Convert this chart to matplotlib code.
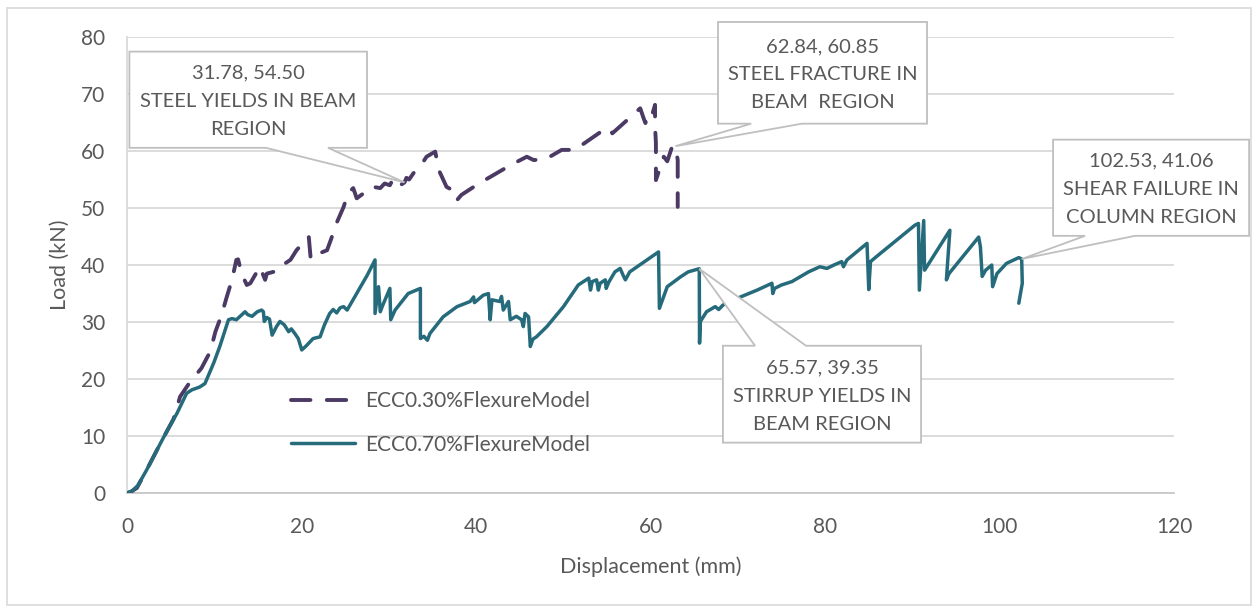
import matplotlib
matplotlib.use("Agg")
import matplotlib.pyplot as plt
from matplotlib.patches import Polygon, Rectangle

plt.rcParams['font.family'] = ['Lato', 'DejaVu Sans']

# ECC0.30%FlexureModel (dashed)
ecc030_x = [0, 0.5, 1.1, 2.2, 4.1, 5.3, 6.05, 7.2, 8.5, 9.5, 10.1, 10.8, 11.4, 12.0, 12.5, 12.7,
            13.1, 13.7, 14.1, 15.2, 15.8, 16.0, 17.5, 18.1, 18.7, 19.4, 20.8, 21.0, 21.5, 22.1,
            22.9, 23.4, 23.8, 24.4, 24.8, 25.3, 25.9, 26.3, 27.1, 27.8, 28.2, 29.0, 29.5, 30.1,
            30.5, 31.3, 31.78, 32.0, 32.3, 32.8, 33.8, 34.3, 35.3, 35.7, 36.6, 37.6, 37.8, 38.3,
            40.3, 42.0, 43.9, 45.8, 46.6, 48.1, 49.8, 51.3, 52.9, 54.6, 55.3, 55.6, 57.5, 58.8,
            59.2, 59.4, 59.6, 60.1, 60.5, 60.5, 60.6, 60.6, 61.1, 61.5, 61.9, 62.4, 62.84, 63.1, 63.1]
ecc030_y = [0, 0.3, 0.9, 4.0, 9.6, 13.0, 16.9, 19.5, 21.9, 24.8, 28.3, 31.2, 34.4, 37.4, 40.9, 41.0,
            38.5, 36.5, 36.8, 39.7, 37.4, 38.5, 39.1, 40.3, 40.9, 42.6, 45.0, 41.5, 40.9, 42.1,
            42.6, 44.7, 46.7, 48.8, 50.2, 52.6, 53.5, 51.7, 52.6, 52.9, 53.7, 53.5, 54.3, 54.0,
            55.2, 54.0, 54.5, 55.3, 55.0, 56.1, 57.8, 59.0, 59.9, 56.7, 53.7, 52.9, 51.4, 52.3,
            54.3, 55.8, 57.5, 59.0, 58.4, 58.7, 60.2, 60.2, 61.9, 63.7, 64.0, 63.1, 65.7, 67.5,
            65.7, 64.9, 66.3, 66.0, 68.1, 64.3, 61.4, 54.9, 57.2, 59.0, 58.2, 60.5, 60.85, 58.4, 50.2]

# ECC0.70%FlexureModel (solid)
ecc070_x = [0, 0.5, 1.2, 2.2, 4.1, 5.7, 6.8, 7.4, 8.3, 8.9, 9.9, 10.6, 11.6, 12.0, 12.5, 13.5,
            13.8, 14.3, 14.9, 15.4, 15.6, 15.7, 16.0, 16.3, 16.6, 17.1, 17.5, 18.0, 18.5, 18.8,
            19.2, 19.6, 20.0, 20.5, 21.3, 22.1, 22.6, 23.2, 23.6, 24.0, 24.4, 24.8, 25.2, 26.3,
            27.5, 28.4, 28.4, 28.8, 29.0, 29.3, 30.1, 30.2, 30.7, 32.2, 33.6, 33.6, 34.0, 34.4,
            34.7, 36.2, 37.8, 39.3, 39.7, 39.8, 40.8, 41.4, 41.6, 41.8, 42.7, 42.9, 43.1, 43.7,
            43.9, 44.6, 45.2, 45.4, 45.6, 46.0, 46.2, 46.5, 46.9, 48.1, 50.0, 51.7, 52.9, 53.1,
            53.3, 53.8, 54.0, 54.2, 54.8, 54.9, 55.2, 55.9, 56.5, 56.9, 57.1, 57.6, 60.9, 61.0,
            61.9, 63.4, 64.3, 65.57, 65.6, 65.7, 66.4, 67.4, 67.8, 68.3, 70.3, 72.2, 73.9, 74.0,
            74.2, 75.0, 76.2, 78.1, 79.4, 80.2, 81.0, 81.9, 82.1, 82.5, 84.8, 85.0, 85.2, 85.9,
            90.3, 90.7, 90.8, 91.3, 91.4, 94.3, 93.9, 94.2, 97.6, 97.8, 98.0, 98.4, 99.1, 99.2,
            99.7, 100.8, 102.2, 102.53, 102.6, 102.2]
ecc070_y = [0, 0.3, 1.3, 4.0, 9.6, 14.0, 17.5, 18.1, 18.6, 19.2, 22.8, 25.7, 30.4, 30.6, 30.4, 31.8,
            31.3, 31.0, 31.8, 32.1, 31.8, 30.1, 30.8, 30.5, 27.7, 29.2, 30.1, 29.5, 28.3, 28.8,
            28.0, 27.1, 25.1, 25.8, 27.1, 27.4, 29.5, 31.5, 32.2, 31.6, 32.5, 32.7, 32.1, 35.0,
            38.2, 40.9, 31.5, 36.2, 31.8, 33.0, 35.9, 30.4, 32.1, 35.0, 35.9, 27.1, 27.5, 26.8,
            28.0, 30.9, 32.7, 33.6, 34.4, 33.4, 34.7, 35.0, 30.4, 33.9, 33.6, 34.5, 32.1, 33.6,
            30.4, 31.0, 30.4, 29.2, 31.5, 30.9, 25.7, 27.0, 27.4, 29.2, 32.7, 36.5, 37.7, 35.6,
            37.1, 37.4, 35.6, 36.8, 37.4, 35.9, 37.0, 38.8, 39.4, 38.0, 37.4, 38.8, 42.3, 32.4,
            36.2, 37.9, 38.8, 39.35, 26.3, 30.1, 31.8, 32.7, 32.2, 33.0, 34.4, 35.6, 36.8, 35.0,
            35.9, 36.5, 37.1, 38.8, 39.7, 39.4, 40.0, 40.6, 39.7, 40.9, 43.8, 35.7, 40.6, 41.5,
            47.0, 47.3, 35.6, 47.8, 39.1, 46.1, 37.4, 38.5, 44.9, 43.2, 38.0, 39.1, 40.0, 36.2,
            38.5, 40.3, 41.3, 41.06, 36.8, 33.3]

x_ticks = [0, 20, 40, 60, 80, 100, 120]
y_ticks = [0, 10, 20, 30, 40, 50, 60, 70, 80]

# annotated points and their descriptions
notes_x = [31.78, 62.84, 102.53, 65.57]
notes_y = [54.50, 60.85, 41.06, 39.35]
notes_text = ["STEEL YIELDS IN BEAM\nREGION", "STEEL FRACTURE IN\nBEAM  REGION",
              "SHEAR FAILURE IN\nCOLUMN REGION", "STIRRUP YIELDS IN\nBEAM REGION"]

purple = '#4B3A64'
teal = '#266B7B'
txt = '#595959'
grid = '#D9D9D9'

fig = plt.figure(figsize=(12.53, 6.08), dpi=100)
fig.patches.append(Rectangle((7 / 1253, 3 / 608), 1244 / 1253, 597 / 608, transform=fig.transFigure,
                             facecolor='none', edgecolor=grid, lw=1.2))
ax = fig.add_axes([0.1016, 0.1891, 0.8354, 0.75])

ax.plot(ecc030_x, ecc030_y, color=purple, lw=2.8, dashes=(5.0, 4.2), dash_capstyle='round',
        solid_joinstyle='round', label='ECC0.30%FlexureModel', zorder=3)
ax.plot(ecc070_x, ecc070_y, color=teal, lw=2.5, solid_joinstyle='round', solid_capstyle='round',
        label='ECC0.70%FlexureModel', zorder=3)

ax.set_xlim(0, 120)
ax.set_ylim(0, 80)
ax.set_xticks(x_ticks)
ax.set_yticks(y_ticks)
ax.tick_params(length=0, labelsize=15, labelcolor=txt)
ax.tick_params(axis='x', pad=17)
ax.tick_params(axis='y', pad=16)
ax.grid(axis='y', color=grid, lw=1.3)
ax.set_axisbelow(True)
for s in ['top', 'right']:
    ax.spines[s].set_visible(False)
ax.spines['left'].set_color(grid)
ax.spines['bottom'].set_color('#C8C8C8')
ax.spines['left'].set_linewidth(1.3)
ax.spines['bottom'].set_linewidth(1.3)

ax.set_xlabel('Displacement (mm)', fontsize=15.5, color=txt)
ax.xaxis.set_label_coords(0.5, -0.138)
ax.set_ylabel('Load (kN)', fontsize=15.5, color=txt)
ax.yaxis.set_label_coords(-0.055, 0.5)

ax.legend(loc='upper left', bbox_to_anchor=(0.146, 0.247), frameon=False, fontsize=15,
          labelcolor=txt, handlelength=3.1, handletextpad=0.5, labelspacing=1.15, borderpad=0)

# callout boxes in axes fraction: x0, x1, ybottom, ytop, wedge base b1, b2, side of wedge
boxes = [
    (0.002, 0.229, 0.757, 0.968, 0.1325, 0.1917, 'bottom'),
    (0.5643, 0.764, 0.810, 1.033, 0.596, 0.6446, 'bottom'),
    (0.8844, 1.0717, 0.564, 0.775, 0.915, 0.9627, 'bottom'),
    (0.569, 0.7583, 0.1105, 0.323, 0.5997, 0.6484, 'top'),
]
to_axes = ax.transData + ax.transAxes.inverted()
for (x0, x1, y0, y1, b1, b2, side), px, py, t in zip(boxes, notes_x, notes_y, notes_text):
    tx, ty = to_axes.transform((px, py))
    if side == 'bottom':
        pts = [(x0, y1), (x1, y1), (x1, y0), (b2, y0), (tx, ty), (b1, y0), (x0, y0)]
    else:
        pts = [(x0, y0), (x1, y0), (x1, y1), (b2, y1), (tx, ty), (b1, y1), (x0, y1)]
    ax.add_patch(Polygon(pts, closed=True, transform=ax.transAxes, facecolor='white',
                         edgecolor='#BFBFBF', lw=1.3, clip_on=False, zorder=5))
    ax.text((x0 + x1) / 2, (y0 + y1) / 2 - 0.004, f"{px:.2f}, {py:.2f}\n{t}", transform=ax.transAxes,
            ha='center', va='center', fontsize=14.5, color=txt, linespacing=1.8, zorder=6)

fig.savefig('out.png', dpi=100)
